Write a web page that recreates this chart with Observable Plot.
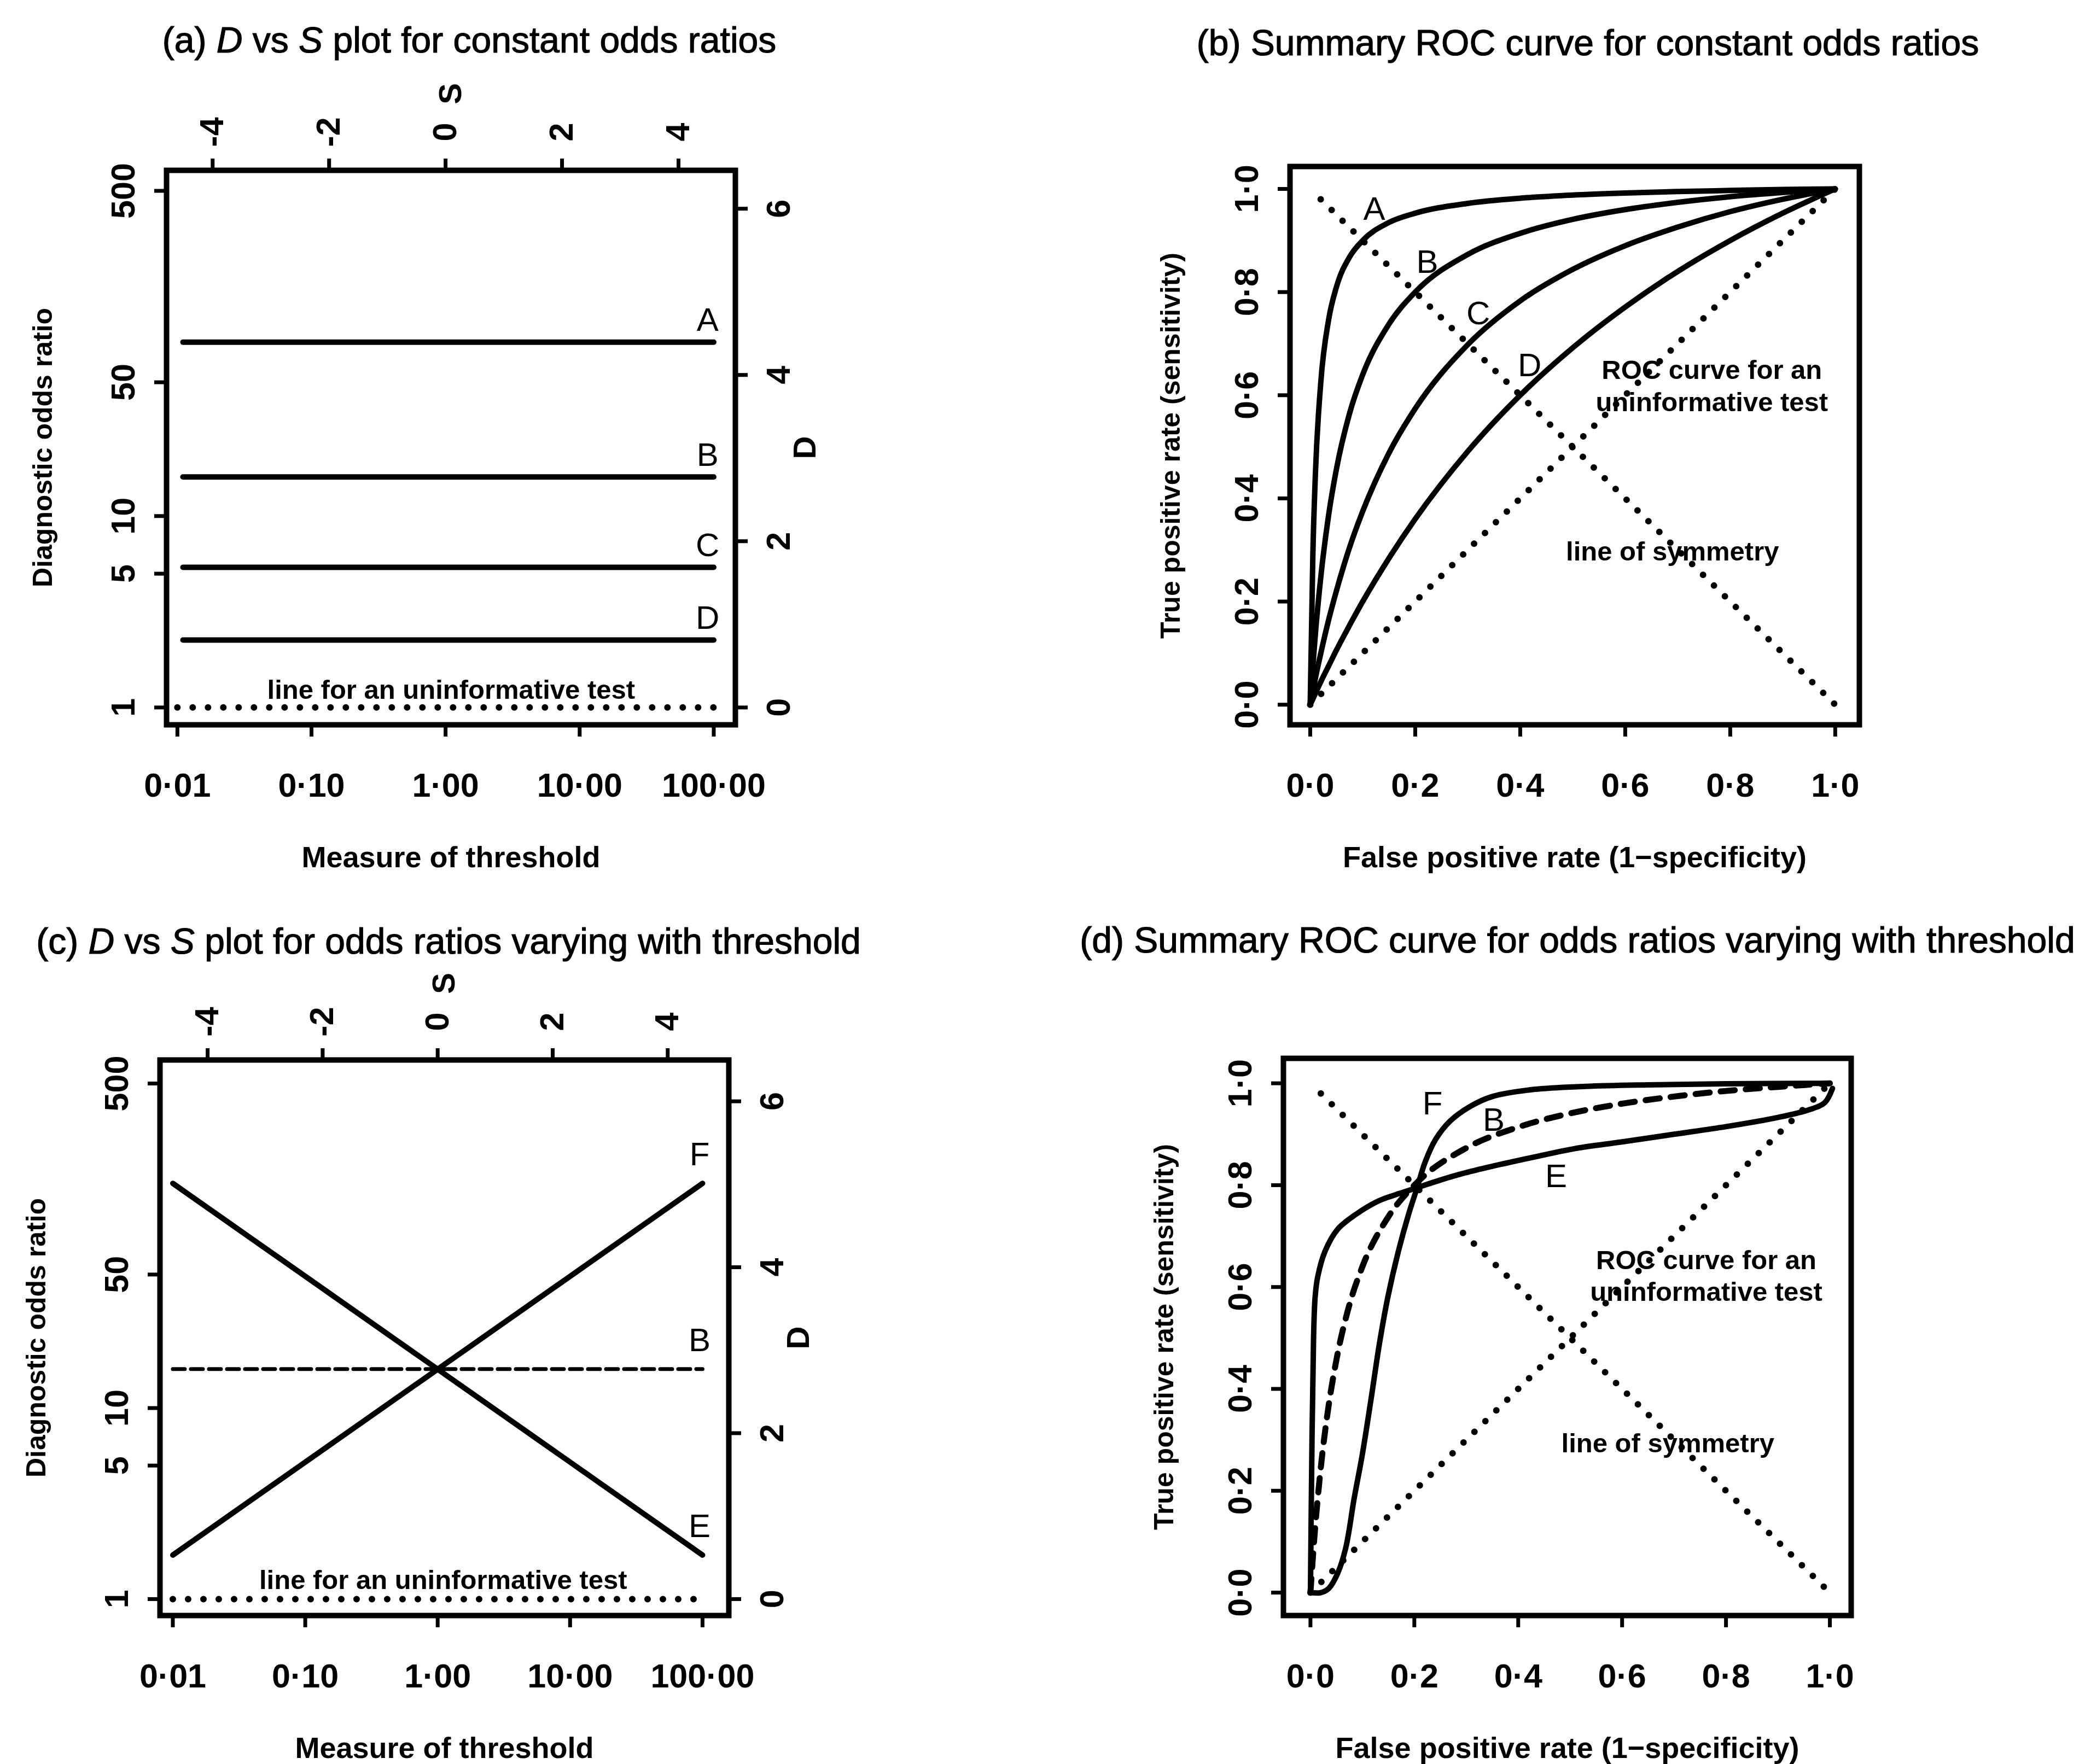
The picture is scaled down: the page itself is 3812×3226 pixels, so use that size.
<!DOCTYPE html>
<html>
<head>
<meta charset="utf-8">
<script src="https://cdn.jsdelivr.net/npm/d3@7"></script>
<script src="https://cdn.jsdelivr.net/npm/@observablehq/plot@0.6"></script>
<style>
html, body { margin: 0; padding: 0; background: #fff; }
#page { position: relative; width: 3812px; height: 3226px; overflow: hidden; background: #fff;
        font-family: "Liberation Sans", Arial, Helvetica, sans-serif; color: #000; }
.title { position: absolute; width: 2000px; text-align: center; font-size: 66px; line-height: 66px;
         white-space: nowrap; z-index: 2; -webkit-text-stroke: 1.2px #000; }
</style>
</head>
<body>
<div id="page"></div>
<script>
// ---------------- data ----------------
const thresholdTicks = [0.01, 0.1, 1, 10, 100];
const thresholdTickLabels = ["0·01", "0·10", "1·00", "10·00", "100·00"];
const dorTicks = [1, 5, 10, 50, 500];
const dorTickLabels = ["1", "5", "10", "50", "500"];
const dTicks = [0, 2, 4, 6];
const sTicks = [-4, -2, 0, 2, 4];
const rateTicks = [0, 0.2, 0.4, 0.6, 0.8, 1];
const rateTickLabels = ["0·0", "0·2", "0·4", "0·6", "0·8", "1·0"];

// (a) constant odds ratios
const constantCurves = ["A", "B", "C", "D"];
const constantDOR = [81, 16, 5.4, 2.25];
const constantThresholds = [0.011, 100];
const uninformativeThresholds = [0.01, 100];
const uninformativeDOR = 1;
const curveLabelThresholdA = 90;

// (c) odds ratios varying with threshold
const varyingCurves = ["F", "B", "E"];
const varyingThresholds = [0.01, 100];
const varyingDORStart = [1.7, 16, 150];
const varyingDOREnd = [150, 16, 1.7];
const curveLabelThresholdC = 95;
const uninformativeText = "line for an uninformative test";
const uninformativeTextThreshold = 1.1;

// (b) summary ROC curves for constant odds ratios
const rocFpr = [0, 0.005, 0.01, 0.02, 0.035, 0.05, 0.075, 0.1, 0.15, 0.2, 0.3, 0.4, 0.5, 0.6, 0.7, 0.8, 0.9, 1.0];
const rocTprA = [0, 0.289, 0.45, 0.623, 0.746, 0.81, 0.868, 0.9, 0.935, 0.953, 0.972, 0.982, 0.988, 0.992, 0.995, 0.997, 0.999, 1];
const rocTprB = [0, 0.074, 0.139, 0.246, 0.367, 0.457, 0.565, 0.64, 0.738, 0.8, 0.873, 0.914, 0.941, 0.96, 0.974, 0.985, 0.993, 1];
const rocTprC = [0, 0.026, 0.052, 0.099, 0.164, 0.221, 0.305, 0.375, 0.488, 0.574, 0.698, 0.783, 0.844, 0.89, 0.926, 0.956, 0.98, 1];
const rocTprD = [0, 0.011, 0.022, 0.044, 0.075, 0.106, 0.154, 0.2, 0.284, 0.36, 0.491, 0.6, 0.692, 0.771, 0.84, 0.9, 0.953, 1];
const rocLabelFpr = [0.122, 0.223, 0.32, 0.418];
const rocLabelTpr = [0.961, 0.858, 0.758, 0.657];
const diagonalX = [0, 1];
const diagonalY = [0, 1];
const symmetryX = [0.02, 1];
const symmetryY = [0.98, 0];
const notesB = ["ROC curve for an", "uninformative test", "line of symmetry"];
const notesBX = [0.765, 0.765, 0.69];
const notesBY = [0.648, 0.586, 0.296];

// (d) summary ROC curves for odds ratios varying with threshold
const rocEFpr = [0, 0.003, 0.006, 0.009, 0.014, 0.028, 0.052, 0.088, 0.129, 0.169, 0.205, 0.25, 0.29, 0.35, 0.43, 0.51, 0.6, 0.7, 0.8, 0.9, 0.96, 0.99, 1.005];
const rocETpr = [0, 0.3, 0.5, 0.58, 0.62, 0.67, 0.713, 0.743, 0.768, 0.783, 0.795, 0.81, 0.822, 0.837, 0.855, 0.872, 0.885, 0.9, 0.915, 0.933, 0.948, 0.962, 0.99];
const rocFFpr = [0, 0.02, 0.035, 0.052, 0.068, 0.084, 0.1, 0.117, 0.133, 0.149, 0.169, 0.189, 0.205, 0.221, 0.241, 0.269, 0.31, 0.35, 0.43, 0.53, 0.65, 0.8, 1.0];
const rocFTpr = [0, 0, 0.008, 0.037, 0.088, 0.184, 0.272, 0.382, 0.49, 0.58, 0.669, 0.743, 0.794, 0.846, 0.89, 0.926, 0.956, 0.974, 0.988, 0.994, 0.997, 0.999, 1.0];
const rocDLabels = ["F", "B", "E"];
const rocDLabelFpr = [0.235, 0.353, 0.473];
const rocDLabelTpr = [0.96, 0.927, 0.817];
const notesD = ["ROC curve for an", "uninformative test", "line of symmetry"];
const notesDX = [0.762, 0.762, 0.688];
const notesDY = [0.652, 0.59, 0.292];

// ---------------- layout & style ----------------
const FONT = '"Liberation Sans", Arial, Helvetica, sans-serif';
const M = {left: 300, right: 300, top: 240, bottom: 290};
const page = document.getElementById("page");

const frames = {
  a: {L: 304, R: 1344, T: 311, B: 1325},
  b: {L: 2358, R: 3399, T: 304, B: 1325},
  c: {L: 292, R: 1332, T: 1938, B: 2954},
  d: {L: 2346, R: 3384, T: 1935, B: 2954}
};

function addTitle(html, cx, cy) {
  const div = document.createElement("div");
  div.className = "title";
  div.innerHTML = html;
  div.style.left = (cx - 1000) + "px";
  div.style.top = (cy - 33) + "px";
  page.appendChild(div);
}

function makePlot(f, opts) {
  const width = M.left + (f.R - f.L) + M.right;
  const height = M.top + (f.B - f.T) + M.bottom;
  const svg = Plot.plot({
    width, height,
    marginLeft: M.left, marginRight: M.right, marginTop: M.top, marginBottom: M.bottom,
    style: {background: "transparent", fontFamily: FONT, color: "black", overflow: "visible"},
    ...opts
  });
  svg.style.position = "absolute";
  svg.style.left = (f.L - M.left) + "px";
  svg.style.top = (f.T - M.top) + "px";
  svg.style.maxWidth = "none";
  svg.style.zIndex = 1;
  page.appendChild(svg);
}

// axis = tick marks (no built-in labels) + explicit text labels
const tickOffsets = {bottom: 112, left: 78, right: 80, top: 70};
function axis(anchor, ticks, labels) {
  const horizontal = anchor === "bottom" || anchor === "top";
  const rows = ticks.map((t, i) => ({t, l: labels[i]}));
  const off = tickOffsets[anchor];
  const tickMark = (horizontal ? Plot.axisX : Plot.axisY)(ticks, {anchor, tickSize: 22, strokeWidth: 7, tickFormat: () => "", label: null});
  const text = Plot.text(rows, {
    [horizontal ? "x" : "y"]: "t", text: "l", frameAnchor: anchor,
    dx: anchor === "left" ? -off : anchor === "right" ? off : 0,
    dy: anchor === "top" ? -off : anchor === "bottom" ? off : 0,
    rotate: anchor === "bottom" ? 0 : -90,
    fontSize: 61, fontWeight: "bold", textAnchor: "middle", lineAnchor: "middle"
  });
  return [tickMark, text];
}

const axisTitle = (label, o) => Plot.text([label], {text: d => d, fontSize: 54, fontWeight: "bold", textAnchor: "middle", lineAnchor: "middle", ...o});
const solid = {stroke: "black", strokeWidth: 10, strokeLinecap: "round", strokeLinejoin: "round"};
const dotted = {stroke: "black", strokeWidth: 12, strokeDasharray: "0 28", strokeLinecap: "round"};
const letterStyle = {fontSize: 60, textAnchor: "middle", lineAnchor: "middle"};
const noteStyle = {fontSize: 49, fontWeight: "bold", textAnchor: "middle", lineAnchor: "middle"};
const frameStyle = {strokeWidth: 10};

// ---------- shared axes ----------
const sPos = sTicks.map(s => Math.exp(s));
const dPos = dTicks.map(d => Math.exp(d));
function dvsSAxes() {
  return [
    Plot.frame(frameStyle),
    ...axis("bottom", thresholdTicks, thresholdTickLabels),
    ...axis("left", dorTicks, dorTickLabels),
    ...axis("right", dPos, dTicks.map(String)),
    ...axis("top", sPos, sTicks.map(String)),
    axisTitle("Measure of threshold", {frameAnchor: "bottom", dy: 243}),
    axisTitle("Diagnostic odds ratio", {frameAnchor: "left", dx: -226, rotate: -90, fontSize: 50}),
    axisTitle("D", {frameAnchor: "right", dx: 128, rotate: -90, fontSize: 58}),
    axisTitle("S", {frameAnchor: "top", dy: -140, rotate: -90, fontSize: 58})
  ];
}
function rocAxes() {
  return [
    Plot.frame(frameStyle),
    ...axis("bottom", rateTicks, rateTickLabels),
    ...axis("left", rateTicks, rateTickLabels),
    axisTitle("False positive rate (1\u2212specificity)", {frameAnchor: "bottom", dy: 243}),
    axisTitle("True positive rate (sensitivity)", {frameAnchor: "left", dx: -218, rotate: -90, fontSize: 50}),
  ];
}

// ---------- (a) ----------
const rowsA = constantCurves.flatMap((c, i) => constantThresholds.map(t => ({curve: c, t, dor: constantDOR[i]})));
const uninfRows = uninformativeThresholds.map(t => ({t, dor: uninformativeDOR}));
addTitle("(a) <i>D</i> vs <i>S</i> plot for constant odds ratios", 858, 73);
makePlot(frames.a, {
  x: {type: "log", domain: [0.0083, 145], axis: null},
  y: {type: "log", domain: [0.812, 640], axis: null},
  marks: [
    ...dvsSAxes(),
    Plot.line(rowsA, {x: "t", y: "dor", z: "curve", ...solid}),
    Plot.line(uninfRows, {x: "t", y: "dor", ...dotted}),
    Plot.text(constantCurves.map((c, i) => ({c, t: curveLabelThresholdA, dor: constantDOR[i]})), {x: "t", y: "dor", text: "c", dy: -40, ...letterStyle}),
    Plot.text([{t: uninformativeTextThreshold, dor: uninformativeDOR}], {x: "t", y: "dor", text: () => uninformativeText, dy: -32, ...noteStyle})
  ]
});

// ---------- (c) ----------
const rowsC = varyingCurves.flatMap((c, i) => [
  {curve: c, t: varyingThresholds[0], dor: varyingDORStart[i]},
  {curve: c, t: varyingThresholds[1], dor: varyingDOREnd[i]}
]);
addTitle("(c) <i>D</i> vs <i>S</i> plot for odds ratios varying with threshold", 820, 1721);
makePlot(frames.c, {
  x: {type: "log", domain: [0.008, 158], axis: null},
  y: {type: "log", domain: [0.82, 664], axis: null},
  marks: [
    ...dvsSAxes(),
    Plot.line(rowsC.filter(d => d.curve !== "B"), {x: "t", y: "dor", z: "curve", ...solid}),
    Plot.line(rowsC.filter(d => d.curve === "B"), {x: "t", y: "dor", stroke: "black", strokeWidth: 7, strokeDasharray: "22 11"}),
    Plot.line(uninfRows, {x: "t", y: "dor", ...dotted}),
    Plot.text(varyingCurves.map((c, i) => ({c, t: curveLabelThresholdC, dor: varyingDOREnd[i]})), {x: "t", y: "dor", text: "c", dy: -52, ...letterStyle}),
    Plot.text([{t: uninformativeTextThreshold, dor: uninformativeDOR}], {x: "t", y: "dor", text: () => uninformativeText, dy: -34, ...noteStyle})
  ]
});

// ---------- (b) ----------
const tprSets = [rocTprA, rocTprB, rocTprC, rocTprD];
const rowsB = constantCurves.flatMap((c, i) => rocFpr.map((f, j) => ({curve: c, fpr: f, tpr: tprSets[i][j]})));
const diagRows = diagonalX.map((x, i) => ({x, y: diagonalY[i]}));
const symRows = symmetryX.map((x, i) => ({x, y: symmetryY[i]}));
addTitle("(b) Summary ROC curve for constant odds ratios", 2903, 78);
makePlot(frames.b, {
  x: {domain: [-0.0385, 1.046], axis: null},
  y: {domain: [-0.039, 1.0435], axis: null},
  marks: [
    ...rocAxes(),
    Plot.line(diagRows, {x: "x", y: "y", ...dotted}),
    Plot.line(symRows, {x: "x", y: "y", ...dotted}),
    Plot.line(rowsB, {x: "fpr", y: "tpr", z: "curve", curve: "monotone-x", ...solid}),
    Plot.text(constantCurves.map((c, i) => ({c, x: rocLabelFpr[i], y: rocLabelTpr[i]})), {x: "x", y: "y", text: "c", ...letterStyle}),
    Plot.text(notesB.map((n, i) => ({n, x: notesBX[i], y: notesBY[i]})), {x: "x", y: "y", text: "n", ...noteStyle})
  ]
});

// ---------- (d) ----------
const rowsE = rocEFpr.map((f, i) => ({fpr: f, tpr: rocETpr[i]}));
const rowsF = rocFFpr.map((f, i) => ({fpr: f, tpr: rocFTpr[i]}));
const rowsDB = rocFpr.map((f, i) => ({fpr: f, tpr: rocTprB[i]}));
addTitle("(d) Summary ROC curve for odds ratios varying with threshold", 2884, 1719);
makePlot(frames.d, {
  x: {domain: [-0.052, 1.041], axis: null},
  y: {domain: [-0.045, 1.049], axis: null},
  marks: [
    ...rocAxes(),
    Plot.line(diagRows, {x: "x", y: "y", ...dotted}),
    Plot.line(symRows, {x: "x", y: "y", ...dotted}),
    Plot.line(rowsDB, {x: "fpr", y: "tpr", curve: "monotone-x", stroke: "black", strokeWidth: 11, strokeDasharray: "26 20"}),
    Plot.line(rowsE, {x: "fpr", y: "tpr", curve: "catmull-rom", ...solid}),
    Plot.line(rowsF, {x: "fpr", y: "tpr", curve: "catmull-rom", ...solid}),
    Plot.text(rocDLabels.map((c, i) => ({c, x: rocDLabelFpr[i], y: rocDLabelTpr[i]})), {x: "x", y: "y", text: "c", ...letterStyle}),
    Plot.text(notesD.map((n, i) => ({n, x: notesDX[i], y: notesDY[i]})), {x: "x", y: "y", text: "n", ...noteStyle})
  ]
});
</script>
</body>
</html>
